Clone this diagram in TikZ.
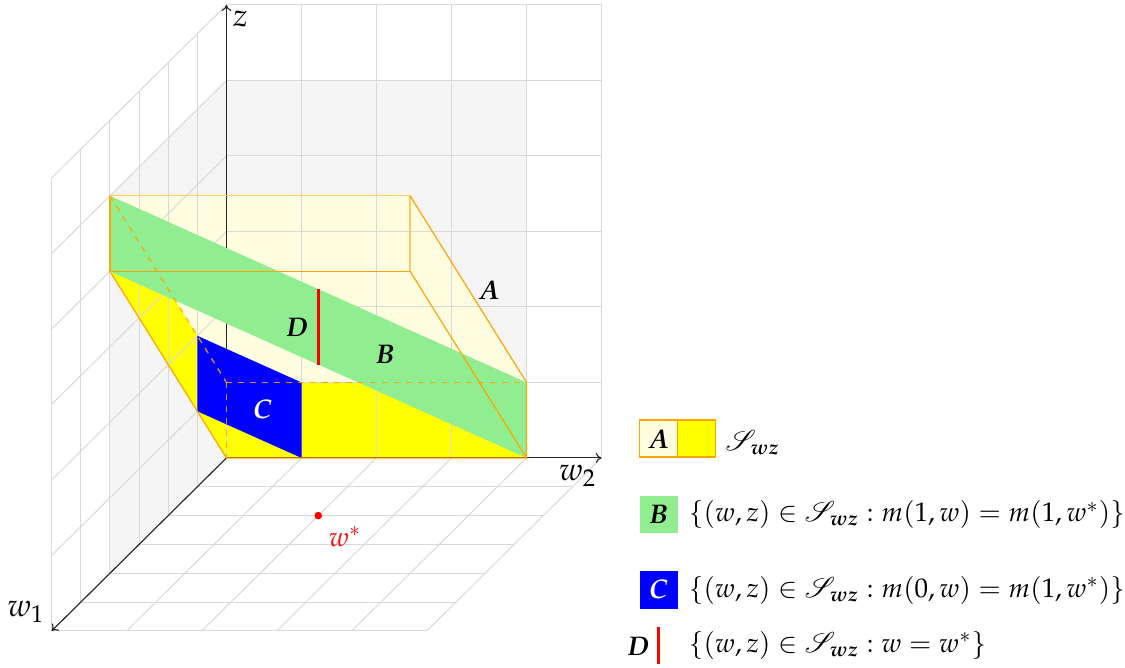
\documentclass[tikz,border=0pt]{standalone}
\usepackage[T1]{fontenc}
\usepackage{mathpazo}
\usepackage{amsmath}
\usepackage{mathrsfs}
\usetikzlibrary{arrows.meta}
\definecolor{lyel}{HTML}{FFFDE0}
\definecolor{dyel}{HTML}{FFFF00}
\definecolor{gridc}{HTML}{D9D9D9}
\definecolor{wallc}{HTML}{F5F5F5}
\definecolor{lgreen}{HTML}{90EE90}
\definecolor{edgeor}{HTML}{FFA500}
\definecolor{pblue}{HTML}{0000FF}
\definecolor{pred}{HTML}{FF0000}
\tikzset{
  gridline/.style={draw=gridc, line width=0.5pt},
  wall/.style={fill=wallc, draw=none},
  axisline/.style={draw=black!85, line width=0.55pt, -{To[length=3pt,width=5pt]}},
  edge/.style={draw=edgeor, line width=0.6pt, line join=round},
  softedge/.style={draw=edgeor!60, line width=0.7pt},
  hidden/.style={draw=edgeor, line width=0.65pt, dash pattern=on 3pt off 3pt, draw opacity=0.85},
  lbl/.style={font=\fontsize{13.5}{16}\selectfont, inner sep=0pt},
  axlbl/.style={font=\fontsize{16}{19}\selectfont, inner sep=0pt},
  legtxt/.style={font=\fontsize{13.5}{16}\selectfont, inner sep=0pt, anchor=west},
}
\begin{document}
\begin{tikzpicture}
\begin{scope}[x=0.5pt,y=-0.5pt,shift={(-113.5pt,229.5pt)}]
  \path[use as bounding box] (0,0) rectangle (1125,669);
\end{scope}
\begin{scope}[x={(37.6pt,0pt)}, y={(0pt,37.835pt)}, z={(-14.6pt,-14.45pt)}]
  % coordinates (w2, z, w1)
  \coordinate (O) at (0,0,0);
  \coordinate (b1) at (4,0,0);
  \coordinate (b2) at (4,4,4);
  \coordinate (b3) at (0,4,4);
  \coordinate (t0) at (0,1,0);
  \coordinate (t1) at (4,1,0);
  \coordinate (t2) at (4,5,4);
  \coordinate (t3) at (0,5,4);
  % walls
  \fill[wallc] (0,0,0) -- (4,0,0) -- (4,5,0) -- (0,5,0) -- cycle;
  \fill[wallc] (0,0,0) -- (0,0,4) -- (0,5,4) -- (0,5,0) -- cycle;
  % box faces
  \fill[dyel] (O) -- (b1) -- (b2) -- (b3) -- cycle;
  \fill[lyel] (t0) -- (t1) -- (t2) -- (t3) -- cycle;
  \fill[lyel] (b3) -- (b2) -- (t2) -- (t3) -- cycle;
  \fill[lyel] (b1) -- (t1) -- (t2) -- (b2) -- cycle;
  % grid
  \foreach \i in {0,...,5} \draw[gridline] (\i,0,0) -- (\i,6,0);
  \foreach \j in {0,...,6} \draw[gridline] (0,\j,0) -- (5,\j,0);
  \foreach \k in {0,...,6} \draw[gridline] (0,0,\k) -- (0,6,\k);
  \foreach \j in {0,...,6} \draw[gridline] (0,\j,0) -- (0,\j,6);
  \foreach \i in {0,...,5} \draw[gridline] (\i,0,0) -- (\i,0,6);
  \foreach \k in {0,...,6} \draw[gridline] (0,0,\k) -- (5,0,\k);
  % axes
  \coordinate (zend) at (0,6,0);
  \coordinate (w2end) at (5,0,0);
  \coordinate (w1end) at (0,0,6);
  \draw[axisline] (t0) -- (zend);
  \draw[axisline] (O) -- (w2end);
  \draw[axisline] (O) -- (w1end);
  % B plane
  \fill[lgreen] (t3) -- (b3) -- (b1) -- (t1) -- cycle;
  % C plane
  \fill[pblue] (0,1,1) -- (0,2,1) -- (1,1,0) -- (1,0,0) -- cycle;
  % box edges
  \draw[softedge] (t3) -- (t2) -- (b2);
  \draw[edge] (t3) -- (b3) -- (b2);
  \draw[edge] (t2) -- (t1) -- (b1) -- (b2);
  \draw[edge] (b3) -- (O) -- (b1);
  \draw[hidden] (t3) -- (t0);
  \draw[hidden] (t0) -- (t1);
  \draw[hidden] (t0) -- (O);
  % D line and w*
  \coordinate (d0) at (2,2,2);
  \coordinate (d1) at (2,3,2);
  \draw[pred, line width=1.4pt] (d0) -- (d1);
  \fill[pred] (2,0,2) circle (1.9pt);
\end{scope}
\begin{scope}[x=0.5pt,y=-0.5pt,shift={(-113.5pt,229.5pt)}]
  % plot labels
  \node[axlbl] (lz) at (241,19) {$z$};
  \node[axlbl] (lw2) at (579,477) {$w_2$};
  \node[axlbl] (lw1) at (26,613) {$w_1$};
  \node[lbl] (lA) at (490,291) {$\boldsymbol{A}$};
  \node[lbl] (lB) at (386,355) {$\boldsymbol{B}$};
  \node[lbl, text=white] (lC) at (263,410) {$\boldsymbol{C}$};
  \node[lbl] (lD) at (298,328) {$\boldsymbol{D}$};
  \node[lbl, text=pred] (lws) at (346,538) {$w^{*}$};
  % legend
  \fill[lyel] (641,421) rectangle (679,458);
  \fill[dyel] (679,421) rectangle (717,458);
  \draw[edgeor, line width=0.6pt] (641,421) rectangle (717,458) (679,421) -- (679,458);
  \node[lbl] (kA) at (660,440) {$\boldsymbol{A}$};
  \node[legtxt] (tA) at (727,444) {$\mathscr{S}_{\boldsymbol{wz}}$};
  \fill[lgreen] (641,497) rectangle (680,534);
  \node[lbl] (kB) at (660,516) {$\boldsymbol{B}$};
  \node[legtxt] (tB) at (690,516) {$\{(w,z)\in\mathscr{S}_{\boldsymbol{wz}} : m(1,w)=m(1,w^{*})\}$};
  \fill[pblue] (641,572) rectangle (680,610);
  \node[lbl, text=white] (kC) at (660,591) {$\boldsymbol{C}$};
  \node[legtxt] (tC) at (690,592) {$\{(w,z)\in\mathscr{S}_{\boldsymbol{wz}} : m(0,w)=m(1,w^{*})\}$};
  \node[lbl] (kD) at (640,648) {$\boldsymbol{D}$};
  \coordinate (kD0) at (660,628);
  \coordinate (kD1) at (660,666);
  \draw[pred, line width=1.4pt] (kD0) -- (kD1);
  \node[legtxt] (tD) at (690,647) {$\{(w,z)\in\mathscr{S}_{\boldsymbol{wz}} : w=w^{*}\}$};
\end{scope}
\end{tikzpicture}
\end{document}
